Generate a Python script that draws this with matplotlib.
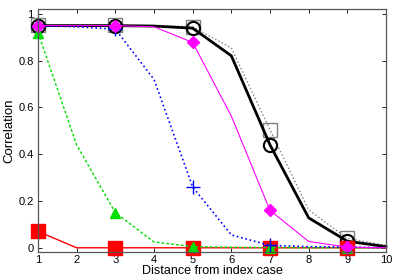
import matplotlib
matplotlib.use("Agg")
import matplotlib.pyplot as plt

plt.rcParams['font.family'] = ['Liberation Sans', 'DejaVu Sans']

# distance from index case
dist = [1, 2, 3, 4, 5, 6, 7, 8, 9, 10]

# correlation curves
red_vals = [0.07, 0.0, 0.0, 0.0, 0.0, 0.0, 0.0, 0.0, 0.0, 0.0]
green_vals = [0.92, 0.44, 0.15, 0.025, 0.005, 0.002, 0.001, 0.0, 0.0, 0.0]
blue_vals = [0.95, 0.945, 0.935, 0.72, 0.26, 0.055, 0.01, 0.005, 0.003, 0.0]
magenta_vals = [0.95, 0.95, 0.95, 0.945, 0.878, 0.563, 0.16, 0.027, 0.003, 0.0]
gray_vals = [0.952, 0.952, 0.952, 0.95, 0.945, 0.854, 0.505, 0.162, 0.04, 0.01]
black_vals = [0.95, 0.95, 0.95, 0.948, 0.939, 0.821, 0.44, 0.128, 0.028, 0.005]

x_ticks = [1, 2, 3, 4, 5, 6, 7, 8, 9, 10]
y_ticks = [0, 0.2, 0.4, 0.6, 0.8, 1]
y_tick_labels = ['0', '0.2', '0.4', '0.6', '0.8', '1']

fig = plt.figure(figsize=(4, 2.8), dpi=100)
ax = fig.add_axes([0.095, 0.1, 0.87, 0.867])

every = slice(0, None, 2)  # markers only on odd distances

ax.plot(dist, gray_vals, ':', color='#808080', lw=1.0, marker='s', ms=9.5,
        mfc='none', mec='#808080', mew=1.0, markevery=every, clip_on=False)
ax.plot(dist, black_vals, '-', color='black', lw=2.0, marker='o', ms=9.5,
        mfc='none', mec='black', mew=1.5, markevery=every, clip_on=False)
ax.plot(dist, red_vals, '-', color='#ff0000', lw=1.0, marker='s', ms=10,
        mfc='#ff0000', mec='#ff0000', markevery=every, clip_on=False)
ax.plot(dist, green_vals, '--', color='#00dd00', lw=1.0, dashes=(2, 1.5),
        marker='^', ms=7.5, mfc='#00dd00', mec='#00dd00', markevery=every,
        clip_on=False)
ax.plot(dist, blue_vals, ':', color='#0000ff', lw=1.2, marker='+', ms=9.5,
        mew=1.0, markevery=every, clip_on=False)
ax.plot(dist, magenta_vals, '-', color='#ff00ff', lw=0.8, marker='D', ms=6.5,
        mfc='#ff00ff', mec='#ff00ff', markevery=every, clip_on=False)

ax.set_xlim(1, 10)
ax.set_ylim(-0.018, 1.02)
ax.set_xticks(x_ticks)
ax.set_yticks(y_ticks)
ax.set_yticklabels(y_tick_labels)
ax.tick_params(direction='in', top=True, right=True, labelsize=8,
               length=3, width=0.6, pad=2)
ax.tick_params(axis='y', pad=3)
for sp in ax.spines.values():
    sp.set_color('#555555')
    sp.set_linewidth(0.9)

ax.set_xlabel('Distance from index case', fontsize=9, labelpad=0.5)
ax.set_ylabel('Correlation', fontsize=9.5, labelpad=2)

fig.savefig('out.png', dpi=100)
